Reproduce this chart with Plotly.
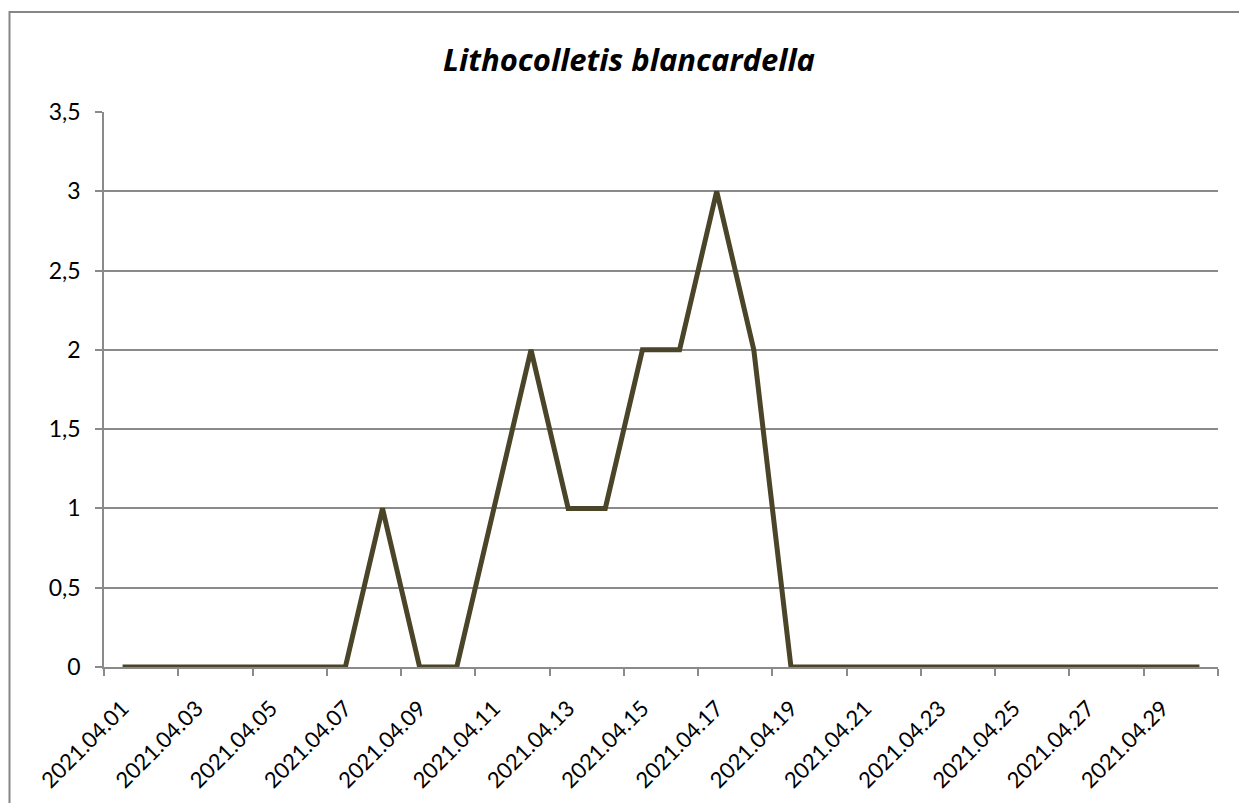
import plotly.graph_objects as go

dates = [f"2021.04.{d:02d}" for d in range(1, 31)]
values = [0, 0, 0, 0, 0, 0, 0, 1, 0, 0, 1, 2, 1, 1, 2, 2, 3, 2, 0, 0,
          0, 0, 0, 0, 0, 0, 0, 0, 0, 0]
title_text = "Lithocolletis blancardella"

pos = list(range(1, len(dates) + 1))
tick_pos = pos[::2]
tick_text = dates[::2]

FONT = "Lato"
TFONT = "Open Sans"
GRID = "#8a8a8a"

fig = go.Figure()
fig.add_trace(go.Scatter(
    x=pos, y=values, mode="lines",
    line=dict(color="#4a4429", width=5),
    hoverinfo="skip", showlegend=False,
))

W, H = 1239, 803
L, R, T, B = 104, 21, 112, 136
pw, ph = W - L - R, H - T - B

def px_to_paper_x(px):
    return (px - L) / pw

def px_to_paper_y(py):
    return (H - B - py) / ph

fig.add_shape(type="rect", xref="paper", yref="paper",
              x0=px_to_paper_x(9.5), x1=px_to_paper_x(1300),
              y0=px_to_paper_y(900), y1=px_to_paper_y(12),
              line=dict(color="#868686", width=2), fillcolor="rgba(0,0,0,0)",
              layer="below")

fig.update_layout(
    width=W, height=H,
    margin=dict(l=L, r=R, t=T, b=B, autoexpand=False),
    paper_bgcolor="white", plot_bgcolor="white",
    separators=", ",
    title=dict(text=f"<b><i>{title_text}</i></b>", x=629 / W, xanchor="center",
               xref="container", y=1 - 60 / H, yanchor="middle", yref="container",
               font=dict(family=TFONT, size=31, color="black")),
    font=dict(family=FONT, size=23, color="black"),
    xaxis=dict(
        range=[0.5, len(dates) + 0.5], automargin=False,
        tickmode="array", tickvals=tick_pos, ticktext=tick_text,
        tickangle=-45, ticks="", showgrid=False, zeroline=False,
        showline=True, linecolor=GRID, linewidth=1.5,
        minor=dict(tick0=0.5, dtick=2, ticks="outside", ticklen=7,
                   tickcolor=GRID, tickwidth=1.5, showgrid=False),
        tickfont=dict(family=FONT, size=22, color="black"),
        ticklabelstandoff=18,
    ),
    yaxis=dict(
        range=[0, 3.5], dtick=0.5, tick0=0, automargin=False,
        showgrid=True, gridcolor=GRID, gridwidth=1.5,
        zeroline=False, showline=True, linecolor=GRID, linewidth=1.5,
        ticks="outside", ticklen=7, tickcolor=GRID, tickwidth=1.5,
        tickfont=dict(family=FONT, size=23, color="black"),
        ticklabelstandoff=10,
    ),
)

fig.write_html("out.html", config={"displayModeBar": False},
               post_script="document.body.style.margin='0';document.body.style.overflow='hidden';")
